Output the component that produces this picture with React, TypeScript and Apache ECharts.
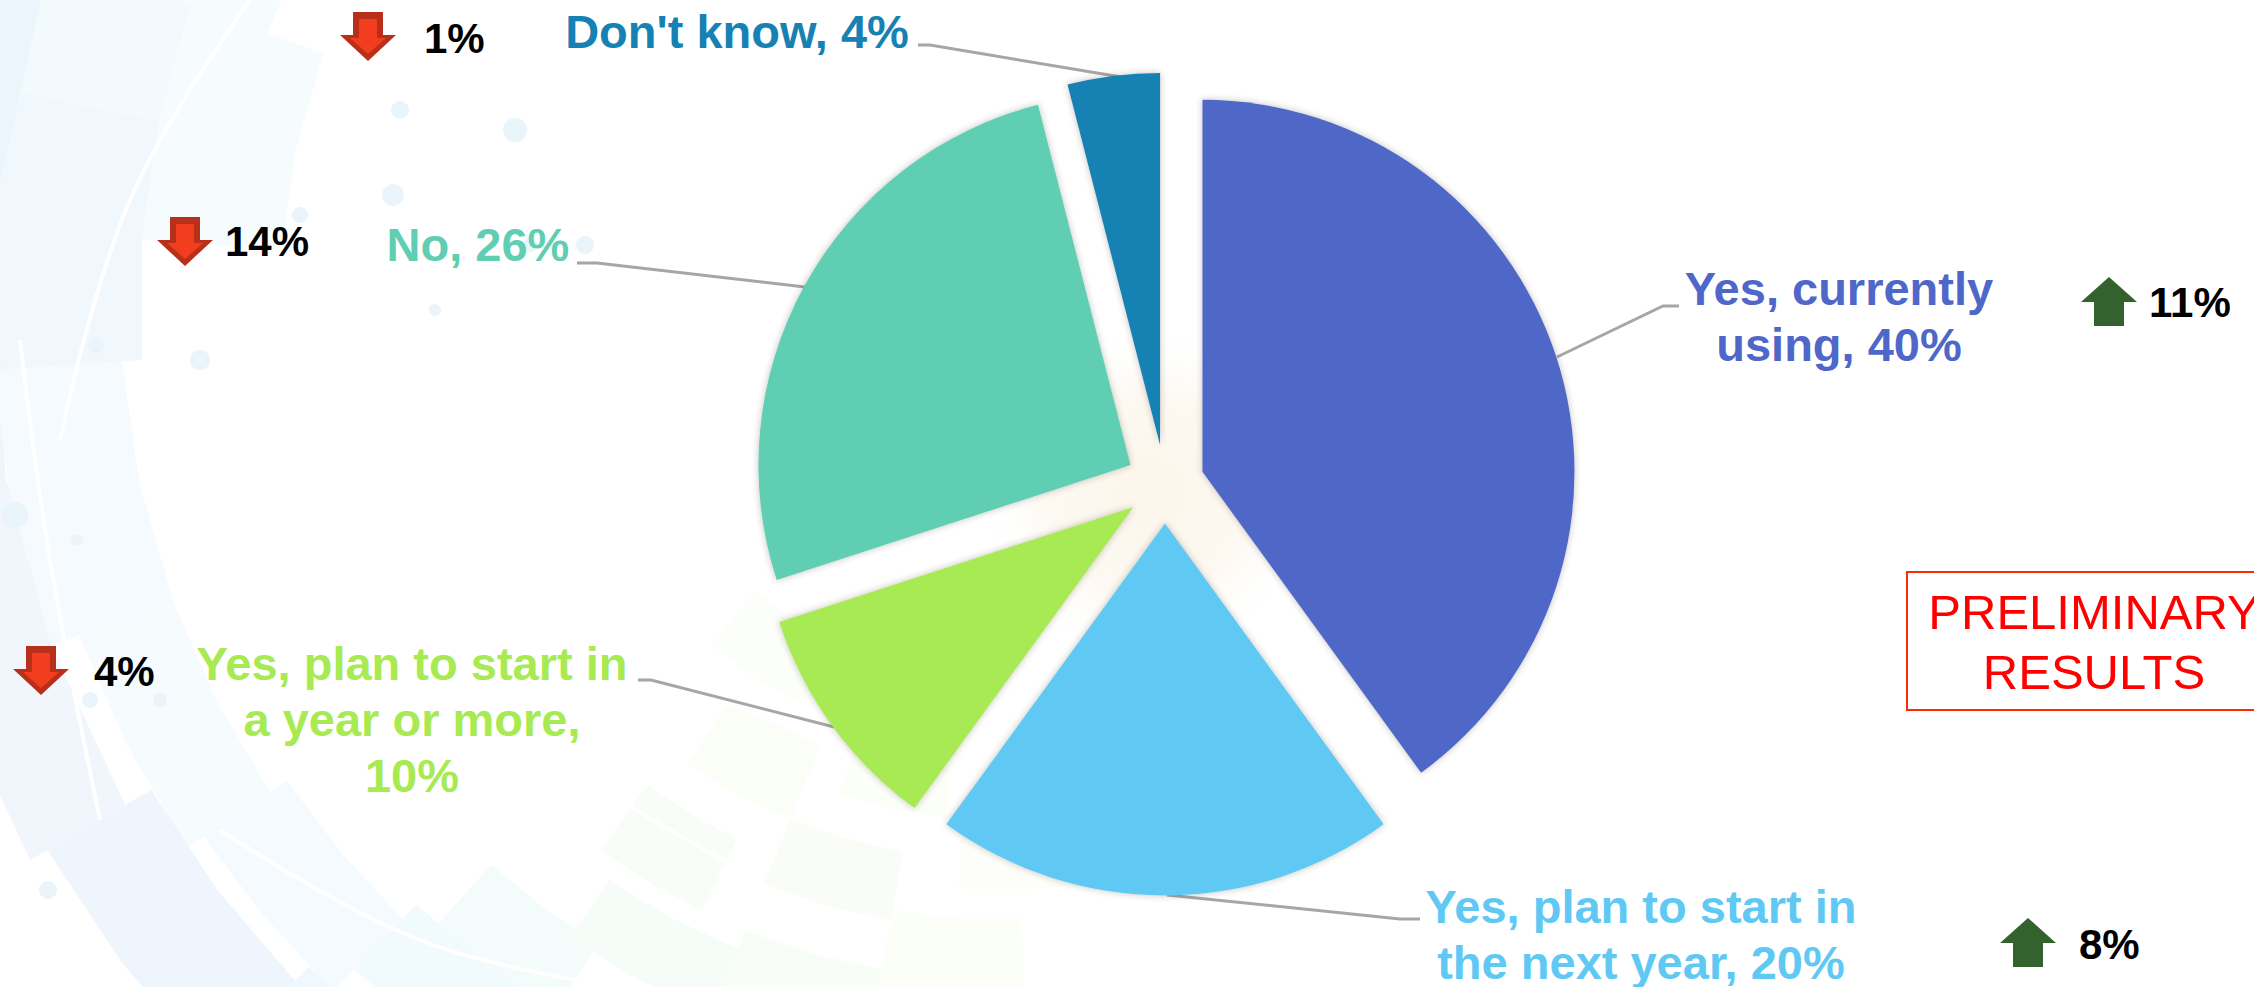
import React, { useEffect, useRef } from "react";
import * as echarts from "echarts";

const WIDTH = 2254;
const HEIGHT = 987;
const FONT = '"Liberation Sans", Arial, sans-serif';

// Survey answers, clockwise from twelve o'clock
const answers = [
  "Yes, currently using",
  "Yes, plan to start in the next year",
  "Yes, plan to start in a year or more",
  "No",
  "Don't know",
];
const shares = [40, 20, 10, 26, 4];
const sliceColors = ["#4F67C8", "#5FC9F3", "#A7EA52", "#5FCEB3", "#1681B3"];
const wrappedNames = [
  ["Yes, currently", "using, "],
  ["Yes, plan to start in", "the next year, "],
  ["Yes, plan to start in", "a year or more,", ""],
  ["No, "],
  ["Don't know, "],
];

// Year-over-year change shown beside each answer
const changeTexts = ["11%", "8%", "4%", "14%", "1%"];
const changeUp = [true, true, false, false, false];

// Label anchors and leader lines, in the same order as the answers
const labelSpots = [
  { x: 1839, y: 260, line: [[1557, 357], [1663, 306], [1679, 306]] },
  { x: 1641, y: 878, line: [[1167, 895], [1400, 919], [1420, 919]] },
  { x: 412, y: 635, line: [[834, 727], [651, 680], [638, 680]] },
  { x: 478, y: 216, line: [[805, 287], [597, 263], [577, 263]] },
  { x: 737, y: 3, line: [[1121, 77], [930, 45], [918, 45]] },
];
const changeSpots = [
  { ax: 2081, ay: 277, tx: 2149, ty: 323 },
  { ax: 2000, ay: 918, tx: 2079, ty: 965 },
  { ax: 13, ay: 646, tx: 94, ty: 692 },
  { ax: 157, ay: 217, tx: 225, ty: 262 },
  { ax: 340, ay: 12, tx: 424, ty: 59 },
];

// Decorative swirl behind the chart: polar tiles [r1, r2, degFrom, degTo, colour],
// angles measured clockwise on screen from the right-hand side
const SWIRL_X = 1000;
const SWIRL_Y = 300;
const swirlTiles: [number, number, number, number, string][] = [
  [720, 860, 184, 200, "#F6FBFE"],
  [860, 1010, 176, 192, "#F1F8FD"],
  [860, 1010, 192, 206, "#F3FAFD"],
  [1010, 1120, 170, 200, "#ECF5FC"],
  [780, 900, 200, 214, "#F5FCFD"],
  [900, 1120, 206, 220, "#F0F9FC"],
  [820, 1000, 222, 234, "#F4FCFC"],
  [880, 1010, 160, 176, "#F5FAFE"],
  [1010, 1120, 150, 170, "#F0F6FC"],
  [880, 980, 146, 160, "#F6FBFE"],
  [980, 1100, 136, 150, "#EFF5FC"],
  [860, 960, 134, 146, "#F5FAFE"],
  [960, 1060, 124, 136, "#EFF9FD"],
  [840, 930, 122, 134, "#F1FBFD"],
  [930, 1010, 112, 124, "#EEFAFC"],
  [760, 840, 122, 132, "#F3FBFB"],
  [810, 880, 108, 122, "#F2FBF8"],
  [700, 770, 112, 124, "#F6FCF8"],
  [600, 680, 116, 126, "#F9FDF7"],
  [680, 760, 100, 112, "#F8FDF7"],
  [560, 630, 100, 112, "#FAFDF7"],
  [480, 560, 112, 124, "#FBFEF7"],
  [440, 520, 96, 108, "#FCFEF8"],
  [620, 700, 88, 100, "#FCFEF8"],
  [520, 590, 82, 94, "#FDFEF9"],
  [380, 450, 116, 130, "#FCFEF9"],
];
const swirlDots = [
  [400, 110, 9], [515, 130, 12], [393, 195, 11], [300, 215, 8], [200, 360, 10],
  [96, 345, 8], [15, 515, 13], [77, 540, 6], [90, 700, 8], [160, 700, 7],
  [48, 890, 9], [435, 310, 6], [585, 245, 9], [530, 245, 7],
];
const whiteStreaks = [
  [[250, 0], [130, 200], [60, 440]],
  [[20, 340], [50, 560], [100, 820]],
  [[300, 520], [470, 700], [760, 880]],
  [[480, 490], [610, 640], [800, 730]],
  [[220, 830], [420, 940], [620, 987]],
];

function tile(r1: number, r2: number, a1: number, a2: number) {
  const at = (r: number, a: number) => [
    SWIRL_X + r * Math.cos((a * Math.PI) / 180),
    SWIRL_Y + r * Math.sin((a * Math.PI) / 180),
  ];
  const mid = (a1 + a2) / 2;
  return [at(r1, a1), at(r1, mid), at(r1, a2), at(r2, a2), at(r2, mid), at(r2, a1)];
}

function backdrop() {
  const items: any[] = [];
  swirlTiles.forEach(([r1, r2, a1, a2, color]) => {
    items.push({
      type: "polygon",
      z: -30,
      silent: true,
      shape: { points: tile(r1, r2, a1, a2) },
      style: { fill: color },
    });
  });
  whiteStreaks.forEach((points) => {
    items.push({
      type: "polyline",
      z: -29,
      silent: true,
      shape: { points, smooth: 0.4 },
      style: { stroke: "#FFFFFF", lineWidth: 4, fill: "none" },
    });
  });
  swirlDots.forEach(([cx, cy, r]) => {
    items.push({
      type: "circle",
      z: -28,
      silent: true,
      shape: { cx, cy, r },
      style: { fill: "#EAF4FB" },
    });
  });
  // Warm glow showing through the gaps near the middle of the pie
  items.push({
    type: "circle",
    z: -27,
    silent: true,
    shape: { cx: 1150, cy: 495, r: 170 },
    style: {
      fill: {
        type: "radial",
        x: 0.5,
        y: 0.5,
        r: 0.5,
        colorStops: [
          { offset: 0, color: "#FCF5EA" },
          { offset: 0.6, color: "#FDF9F2" },
          { offset: 1, color: "rgba(255,255,255,0)" },
        ],
      },
    },
  });
  return items;
}

function changeMarker(i: number) {
  const { ax, ay, tx, ty } = changeSpots[i];
  const up = changeUp[i];
  const W = 56;
  const H = 49;
  const shaftL = 13;
  const shaftR = 43;
  const neck = 23;
  const outer = up
    ? [[ax + W / 2, ay], [ax + W, ay + H - neck - 1], [ax + shaftR, ay + H - neck - 1], [ax + shaftR, ay + H], [ax + shaftL, ay + H], [ax + shaftL, ay + H - neck - 1], [ax, ay + H - neck - 1]]
    : [[ax + shaftL, ay], [ax + shaftR, ay], [ax + shaftR, ay + neck], [ax + W, ay + neck], [ax + W / 2, ay + H], [ax, ay + neck], [ax + shaftL, ay + neck]];
  const parts: any[] = [
    {
      type: "polygon",
      z: 20,
      silent: true,
      shape: { points: outer },
      style: { fill: up ? "#33622E" : "#B9301A" },
    },
  ];
  if (!up) {
    const inner = [[ax + 19, ay + 7], [ax + 37, ay + 7], [ax + 37, ay + neck + 3], [ax + W - 10, ay + neck + 3], [ax + W / 2, ay + H - 7], [ax + 10, ay + neck + 3], [ax + 19, ay + neck + 3]];
    parts.push({
      type: "polygon",
      z: 21,
      silent: true,
      shape: { points: inner },
      style: { fill: "#F23D1E" },
    });
  }
  parts.push({
    type: "text",
    z: 22,
    silent: true,
    x: tx,
    y: ty,
    style: {
      text: changeTexts[i],
      fill: "#000000",
      font: `bold 42px ${FONT}`,
      textAlign: "left",
      textVerticalAlign: "bottom",
    },
  });
  return parts;
}

function stamp() {
  const line = (text: string, y: number) => ({
    type: "text",
    z: 21,
    silent: true,
    x: 2094,
    y,
    style: {
      text,
      fill: "#FF0000",
      font: `49px ${FONT}`,
      textAlign: "center",
      textVerticalAlign: "middle",
    },
  });
  return [
    {
      type: "rect",
      z: 20,
      silent: true,
      shape: { x: 1907, y: 572, width: 360, height: 138 },
      style: { fill: "none", stroke: "#FF2A00", lineWidth: 2 },
    },
    line("PRELIMINARY", 612),
    line("RESULTS", 672),
  ];
}

const pieCenter = [1165, 484];
const pieRadius = 372;

export default function App() {
  const ref = useRef<HTMLDivElement>(null);

  useEffect(() => {
    document.body.style.margin = "0";
    document.body.style.overflow = "hidden";
    const chart = echarts.init(ref.current!, undefined, { renderer: "svg" });
    chart.setOption({
      animation: false,
      backgroundColor: "#FFFFFF",
      graphic: { elements: [...backdrop(), ...changeUp.flatMap((_, i) => changeMarker(i)), ...stamp()] },
      series: [
        // Exploded slices
        {
          type: "pie",
          center: pieCenter,
          radius: [0, pieRadius],
          startAngle: 90,
          selectedMode: "multiple",
          selectedOffset: 39.4,
          emphasis: { disabled: true },
          label: { show: false },
          labelLine: { show: false },
          data: answers.map((name, i) => ({
            name,
            value: shares[i],
            selected: true,
            itemStyle: {
              color: sliceColors[i],
              shadowBlur: 6,
              shadowColor: "rgba(60,50,40,0.32)",
            },
          })),
        },
        // Labels and leader lines, carried by an unfilled pie of the same data
        {
          type: "pie",
          center: pieCenter,
          radius: [0, pieRadius],
          startAngle: 90,
          silent: true,
          avoidLabelOverlap: false,
          emphasis: { disabled: true },
          itemStyle: { color: "rgba(0,0,0,0)" },
          data: answers.map((name, i) => ({
            name,
            value: shares[i],
            label: { color: sliceColors[i] },
          })),
          label: {
            show: true,
            position: "outside",
            fontFamily: FONT,
            fontWeight: "bold",
            fontSize: 47,
            lineHeight: 56,
            align: "center",
            formatter: (p: any) => {
              const text = [...wrappedNames[p.dataIndex]];
              text[text.length - 1] += `${p.value}%`;
              return text.join("\n");
            },
          },
          labelLine: {
            show: true,
            lineStyle: { color: "#A6A6A6", width: 3 },
          },
          labelLayout: (p: any) => {
            const spot = labelSpots[p.dataIndex];
            return {
              x: spot.x,
              y: spot.y,
              align: "center",
              verticalAlign: "top",
              labelLinePoints: spot.line,
            };
          },
        },
      ],
    });
    return () => chart.dispose();
  }, []);

  return <div ref={ref} style={{ width: WIDTH, height: HEIGHT }} />;
}
